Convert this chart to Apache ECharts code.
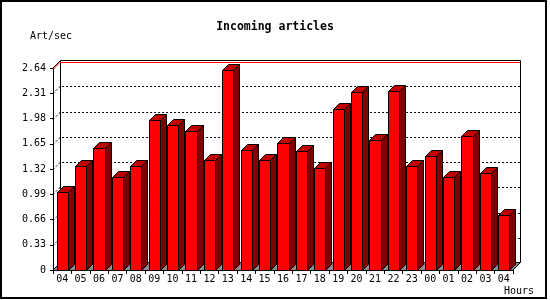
<!DOCTYPE html>
<html><head><meta charset="utf-8">
<script src="https://cdn.jsdelivr.net/npm/echarts@6/dist/echarts.min.js"></script>
<style>html,body{margin:0;padding:0;background:#fff}#c{width:550px;height:300px}</style>
</head><body><div id="c"></div>
<script>
const hours = ['04','05','06','07','08','09','10','11','12','13','14','15','16','17','18','19','20','21','22','23','00','01','02','03','04'];
const artPerSec = [1.02,1.36,1.59,1.21,1.36,1.96,1.89,1.82,1.44,2.62,1.57,1.44,1.66,1.55,1.33,2.10,2.33,1.70,2.34,1.36,1.49,1.21,1.75,1.27,0.72];
const yTicks = [0,0.33,0.66,0.99,1.32,1.65,1.98,2.31,2.64];
const titleText = 'Incoming articles';
const yUnit = 'Art/sec';
const xUnit = 'Hours';

const yMax = yTicks[yTicks.length-1];
const MONO = '"DejaVu Sans Mono", "Liberation Mono", monospace';
const WALL = 7, BAR_D = 6;

const chart = echarts.init(document.getElementById('c'), null, {renderer:'canvas'});

function frameItem(params, api){
  const cs = params.coordSys;
  const L = cs.x, R = cs.x + cs.width, T = cs.y, B = cs.y + cs.height;
  const D = WALL;
  const kids = [];
  // back wall
  kids.push({type:'rect', shape:{x:L+D+0.5, y:T-D-0.5, width:R-L, height:B-T}, style:{fill:'#fff', stroke:'#000', lineWidth:1}});
  // dotted grid lines (front tick -> back wall)
  yTicks.forEach(t=>{
    if (t===0 || t===yMax) return;
    const y = Math.round(api.coord([0,t])[1]) + 0.5;
    kids.push({type:'polyline', shape:{points:[[L,y],[L+D,y-D],[R+D,y-D]]}, style:{stroke:'#000', lineWidth:1, lineDash:[2,2], fill:null}});
  });
  // floor
  kids.push({type:'polygon', shape:{points:[[L,B],[R,B],[R+D,B-D],[L+D,B-D]]}, style:{fill:'#8c8c8c', stroke:null}});
  // max line (red)
  const ym = Math.round(api.coord([0,yMax])[1]);
  kids.push({type:'line', shape:{x1:L+D, y1:ym-D+1.5, x2:R+D, y2:ym-D+1.5}, style:{stroke:'#ff0000', lineWidth:1}});
  kids.push({type:'line', shape:{x1:L, y1:ym+1.5, x2:L+D, y2:ym-D+1.5}, style:{stroke:'#ff0000', lineWidth:1}});
  kids.push({type:'line', shape:{x1:L, y1:ym, x2:L+D, y2:ym-D}, style:{stroke:'#000', lineWidth:1}});
  // floor edges
  kids.push({type:'line', shape:{x1:L, y1:B, x2:L+D, y2:B-D}, style:{stroke:'#000', lineWidth:1}});
  kids.push({type:'line', shape:{x1:R, y1:B, x2:R+D, y2:B-D}, style:{stroke:'#000', lineWidth:1}});
  return {type:'group', children:kids};
}

function barItem(params, api){
  const i = api.value(0), v = api.value(1);
  const top = api.coord([i, v]);
  const base = api.coord([i, 0]);
  const bw = api.size([1, 0])[0];
  const hw = bw * 0.3;
  const d = BAR_D;
  const x0 = Math.round(top[0] - hw) + 0.5, x1 = Math.round(top[0] + hw) + 0.5;
  const yt = Math.round(top[1]) + 0.5, yb = Math.round(base[1]) + 0.5;
  const st = {stroke:'#000', lineWidth:1};
  return {type:'group', children:[
    {type:'polygon', shape:{points:[[x1,yb],[x1,yt],[x1+d,yt-d],[x1+d,yb-d]]}, style:Object.assign({fill:'#800000'}, st)},
    {type:'polygon', shape:{points:[[x0,yt],[x1,yt],[x1+d,yt-d],[x0+d,yt-d]]}, style:Object.assign({fill:'#c00000'}, st)},
    {type:'rect', shape:{x:x0, y:yt, width:x1-x0, height:yb-yt}, style:Object.assign({fill:'#ff0000'}, st)}
  ]};
}

chart.setOption({
  animation:false,
  backgroundColor:'#fff',
  grid:{left:53, right:37, top:68, bottom:30, containLabel:false},
  xAxis:{type:'category', data:hours, boundaryGap:true,
    axisLine:{show:true, lineStyle:{color:'#000', width:1}},
    axisTick:{show:true, interval:0, length:4, lineStyle:{color:'#000'}},
    axisLabel:{interval:0, margin:4, color:'#000', fontFamily:MONO, fontSize:10},
    splitLine:{show:false}},
  yAxis:{type:'value', min:0, max:yMax, interval:0.33,
    axisLine:{show:true, lineStyle:{color:'#000', width:1}},
    axisTick:{show:true, length:3, lineStyle:{color:'#000'}},
    axisLabel:{margin:7, color:'#000', fontFamily:MONO, fontSize:10,
      formatter:v=> v===0 ? '0' : v.toFixed(2)},
    splitLine:{show:false}},
  graphic:[
    {type:'rect', shape:{x:1, y:1, width:545, height:297}, style:{fill:null, stroke:'#000', lineWidth:2}, z:100},
    {type:'text', x:275, y:21, style:{text:titleText, font:'bold 11.5px '+MONO, fill:'#000', align:'center', verticalAlign:'top'}},
    {type:'text', x:30, y:31, style:{text:yUnit, font:'10px '+MONO, fill:'#000', verticalAlign:'top'}},
    {type:'text', x:504, y:286, style:{text:xUnit, font:'10px '+MONO, fill:'#000', verticalAlign:'top'}}
  ],
  series:[
    {type:'custom', renderItem:frameItem, data:[[0,0]], z:1, silent:true, clip:false},
    {type:'custom', renderItem:barItem, data:artPerSec.map((v,i)=>[i,v]), encode:{x:0,y:1}, z:3, silent:true, clip:false}
  ]
});
</script></body></html>
